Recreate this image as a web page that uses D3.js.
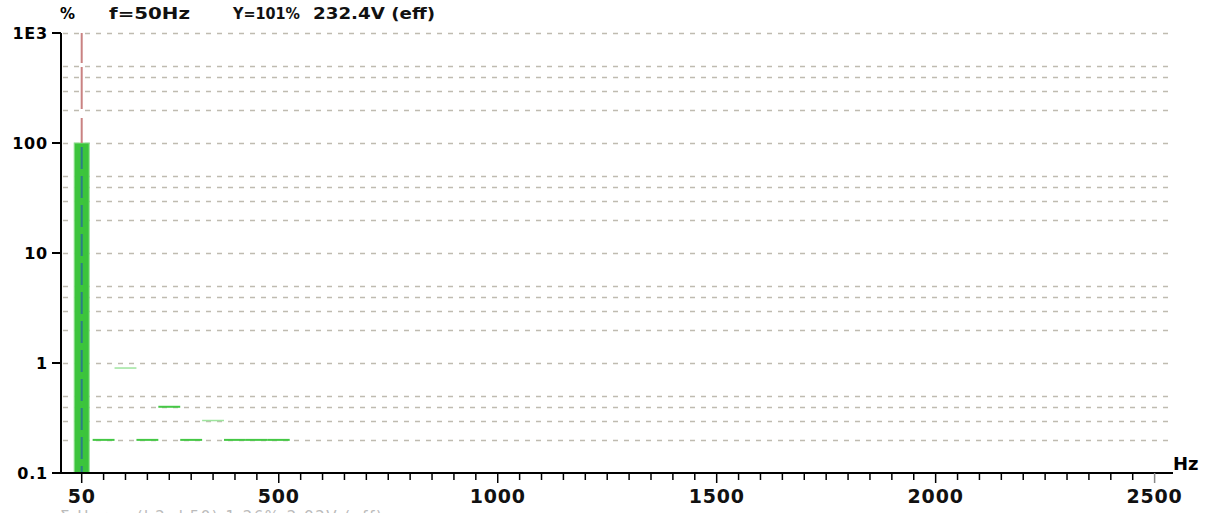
<!DOCTYPE html>
<html>
<head>
<meta charset="utf-8">
<script src="https://cdn.jsdelivr.net/npm/d3@7/dist/d3.min.js"></script>
<style>
  body { margin: 0; background: #fff; }
  svg { display: block; }
  text { font-family: "DejaVu Sans", sans-serif; }
</style>
</head>
<body>
<svg id="chart" width="1209" height="513"></svg>
<script>
// spectrum values
var fundFreq = 50
var fundValue = 100
var harmFreq = [100, 150, 200, 250, 300, 350, 400, 450, 500]
var harmValue = [0.2, 0.9, 0.2, 0.4, 0.2, 0.3, 0.2, 0.2, 0.2]
var faintHarm = [150, 350]

var xLabels = [50, 500, 1000, 1500, 2000, 2500]
var yLabels = [0.1, 1, 10, 100, 1000]
var yLabelText = ["0.1", "1", "10", "100", "1E3"]
var gridFactors = [2, 3, 4, 5, 10]

var header = ["f=50Hz", "Y=101%", "232.4V (eff)"]

var svg = d3.select("#chart")
var pLeft = 61, pRight = 1173, pTop = 33, pBottom = 473

var x = d3.scaleLinear().domain([0, 2542]).range([59.8, pRight])
var y = d3.scaleLog().domain([0.1, 1000]).range([pBottom, pTop])

// horizontal grid
var gridVals = []
yLabels.slice(0, 4).forEach(function(d) {
  gridFactors.forEach(function(f) { gridVals.push(d * f) })
})
svg.append("g").selectAll("line")
  .data(gridVals)
  .enter().append("line")
  .attr("x1", pLeft + 2).attr("x2", pRight)
  .attr("y1", function(d) { return Math.round(y(d)) + 0.5 })
  .attr("y2", function(d) { return Math.round(y(d)) + 0.5 })
  .attr("stroke", "#bfbbb0")
  .attr("stroke-width", 1.6)
  .attr("stroke-dasharray", "5,6")

// harmonics as short steps, one 50 Hz bin wide
svg.append("g").selectAll("line")
  .data(harmFreq)
  .enter().append("line")
  .attr("x1", function(d) { return x(d - 25) })
  .attr("x2", function(d) { return x(d + 25) })
  .attr("y1", function(d, i) { return y(harmValue[i]) })
  .attr("y2", function(d, i) { return y(harmValue[i]) })
  .attr("stroke", function(d) { return faintHarm.indexOf(d) >= 0 ? "#9ee49e" : "#45c845" })
  .attr("stroke-width", function(d) { return faintHarm.indexOf(d) >= 0 ? 1.5 : 2 })

// fundamental bar
var bw = 15
svg.append("rect")
  .attr("x", x(fundFreq) - bw / 2)
  .attr("y", y(fundValue))
  .attr("width", bw)
  .attr("height", y(0.1) - y(fundValue))
  .attr("fill", "#3cc43c")
  .attr("stroke", "#8ee08e")
  .attr("stroke-width", 1)

// cursor line at the fundamental
svg.append("line")
  .attr("x1", x(fundFreq)).attr("x2", x(fundFreq))
  .attr("y1", pTop).attr("y2", y(fundValue))
  .attr("stroke", "#c98282")
  .attr("stroke-width", 2)
  .attr("stroke-dasharray", "30,4,42,9")
svg.append("line")
  .attr("x1", x(fundFreq)).attr("x2", x(fundFreq))
  .attr("y1", y(fundValue) + 4).attr("y2", pBottom)
  .attr("stroke", "#2a7f86")
  .attr("stroke-width", 2)
  .attr("stroke-dasharray", "22,7")

// axes
svg.append("line")
  .attr("x1", pLeft).attr("x2", pLeft)
  .attr("y1", pTop).attr("y2", pBottom + 1)
  .attr("stroke", "#000").attr("stroke-width", 2)
svg.append("line")
  .attr("x1", pLeft).attr("x2", pRight)
  .attr("y1", pBottom).attr("y2", pBottom)
  .attr("stroke", "#000").attr("stroke-width", 2)

// y ticks and labels
svg.append("g").selectAll("line")
  .data(yLabels)
  .enter().append("line")
  .attr("x1", pLeft - 9).attr("x2", pLeft)
  .attr("y1", function(d) { return y(d) }).attr("y2", function(d) { return y(d) })
  .attr("stroke", "#000").attr("stroke-width", 2)
svg.append("g").selectAll("text")
  .data(yLabels)
  .enter().append("text")
  .attr("x", 48)
  .attr("y", function(d) { return y(d) + 6 })
  .attr("text-anchor", "end")
  .attr("font-size", 16)
  .attr("font-weight", "bold")
  .attr("letter-spacing", 0.8)
  .text(function(d, i) { return yLabelText[i] })

// x ticks every 50 Hz
svg.append("g").selectAll("line")
  .data(d3.range(50, 2501, 50))
  .enter().append("line")
  .attr("x1", function(d) { return x(d) }).attr("x2", function(d) { return x(d) })
  .attr("y1", pBottom)
  .attr("y2", function(d) { return xLabels.indexOf(d) >= 0 ? pBottom + 10 : pBottom + 7 })
  .attr("stroke", function(d) { return d == 2500 ? "#888" : "#000" })
  .attr("stroke-width", 1.5)
svg.append("g").selectAll("text")
  .data(xLabels)
  .enter().append("text")
  .attr("x", function(d) { return x(d) })
  .attr("y", 503)
  .attr("text-anchor", "middle")
  .attr("font-size", 19)
  .attr("font-weight", "bold")
  .attr("letter-spacing", 0.8)
  .attr("fill", "#111")
  .text(function(d) { return d })

svg.append("text")
  .attr("x", 1173).attr("y", 470)
  .attr("font-size", 18).attr("font-weight", "bold")
  .text("Hz")

// header
svg.append("text")
  .attr("x", 60).attr("y", 19)
  .attr("font-size", 15).attr("font-weight", "bold")
  .attr("textLength", 18)
  .text("%")
var hx = [109, 233, 313]
var hw = [81, 67, 122]
svg.append("g").selectAll("text")
  .data(header)
  .enter().append("text")
  .attr("x", function(d, i) { return hx[i] })
  .attr("y", 19)
  .attr("font-size", 15)
  .attr("font-weight", "bold")
  .attr("textLength", function(d, i) { return hw[i] })
  .attr("lengthAdjust", "spacingAndGlyphs")
  .attr("fill", "#111")
  .text(function(d) { return d })

// status line, mostly cut off at the bottom edge
svg.append("text")
  .attr("x", 60).attr("y", 522)
  .attr("font-size", 15)
  .attr("letter-spacing", 1.5)
  .attr("fill", "#bbb")
  .text("Σ Harm. (h2..h50)   1.26%   2.92V (eff)")
</script>
</body>
</html>
